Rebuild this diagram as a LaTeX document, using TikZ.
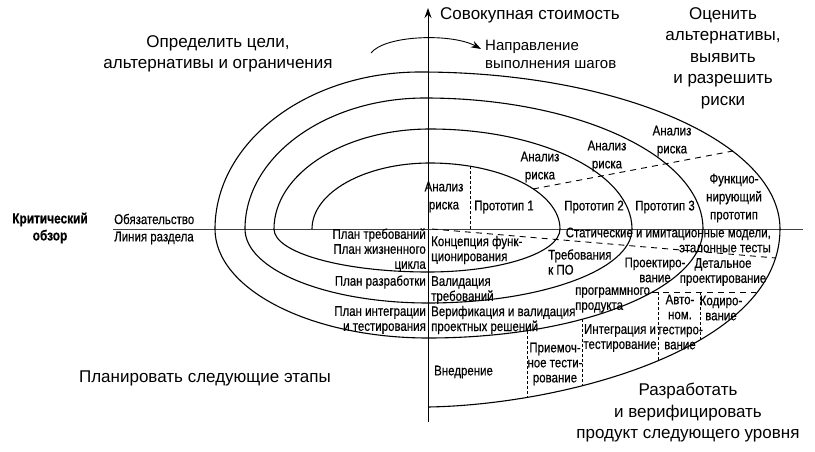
\documentclass[tikz,border=0pt]{standalone}
\usepackage{fontspec}
\setmainfont{Liberation Sans}
\newfontfamily\narrowfont[FakeStretch=0.82,FakeBold=0.4]{Liberation Sans}
\usetikzlibrary{arrows.meta}

\begin{document}
\begin{tikzpicture}[x=1pt,y=1pt,
  big/.style={font=\fontsize{17}{21.5}\selectfont,align=center,inner sep=0pt},
  sm/.style={font=\fontsize{15}{18}\selectfont,align=left,inner sep=0pt},
  lbl/.style={font=\narrowfont\fontsize{14}{15}\selectfont,align=center,inner sep=0pt},
  sp/.style={line width=1.1pt},
  dsh/.style={dash pattern=on 6pt off 5pt,line width=0.9pt},
  dv/.style={dash pattern=on 3pt off 2pt,line width=0.7pt},
  ar/.style={-{Stealth[length=10pt,width=7pt]},line width=1pt}]
\useasboundingbox (0,0) rectangle (815,451);

% axes
\coordinate (axbot) at (428,29);
\coordinate (axtop) at (428,443);
\coordinate (hl) at (113,222);
\coordinate (hr) at (803,222);
\draw[ar] (axbot) -- (axtop);
\draw[line width=0.8pt,black!75] (hl) -- (hr);

% spiral
\draw[sp] (312,222)
  arc[start angle=180,end angle=90,x radius=118,y radius=66]
  arc[start angle=90,end angle=0,x radius=130,y radius=66]
  arc[start angle=0,end angle=-90,x radius=132,y radius=43]
  arc[start angle=-90,end angle=-180,x radius=154,y radius=43]
  arc[start angle=180,end angle=90,x radius=156,y radius=100]
  arc[start angle=90,end angle=0,x radius=202,y radius=100]
  arc[start angle=0,end angle=-90,x radius=204,y radius=74]
  arc[start angle=-90,end angle=-180,x radius=183,y radius=74]
  arc[start angle=180,end angle=90,x radius=180,y radius=131]
  arc[start angle=90,end angle=0,x radius=278,y radius=131]
  arc[start angle=0,end angle=-90,x radius=275,y radius=109]
  arc[start angle=-90,end angle=-180,x radius=213,y radius=109]
  arc[start angle=180,end angle=90,x radius=205,y radius=157]
  arc[start angle=90,end angle=0,x radius=360,y radius=157]
  .. controls (780,101) and (560,46) .. (428,44);

% dashed splits
\draw[dsh] (533,262) -- (733,300);
\draw[dsh] (432,222) -- (776,193);
\draw[dsh] (652,159) -- (756,159);
\draw[dv] (470,222) -- (470,285);
\draw[dv] (658,159) -- (658,91);
\draw[dv] (700,159) -- (700,112);
\draw[dv] (582,132) -- (582,65);
\draw[dv] (527,120) -- (527,53);

% direction arrow
\coordinate (d0) at (371,398);
\coordinate (d1) at (481,402);
\draw[ar,line width=0.9pt] (d0) .. controls (385,416) and (452,418) .. (d1);

% quadrant captions
\node[big] (goals) at (218,397) {Определить цели,\\альтернативы и ограничения};
\node[big,anchor=west] (cost) at (440,436) {Совокупная стоимость};
\node[sm,anchor=west] (dir) at (485,397) {Направление\\выполнения шагов};
\node[big] (risk) at (723,393) {Оценить\\альтернативы,\\выявить\\и разрешить\\риски};
\node[big] (next) at (205,73) {Планировать следующие этапы};
\node[big] (build) at (688,38) {Разработать\\и верифицировать\\продукт следующего уровня};

% review line
\node[lbl,font=\narrowfont\bfseries\fontsize{14.5}{17}\selectfont] (review) at (50,223) {Критический\\обзор};
\node[lbl,anchor=west] (commit) at (114,232) {Обязательство};
\node[lbl,anchor=west] (part) at (114,213) {Линия раздела};

% risk analysis and prototypes
\node[lbl] (ra1) at (444,254) {Анализ\\[3pt]риска};
\node[lbl] (ra2) at (540,284) {Анализ\\[3pt]риска};
\node[lbl] (ra3) at (607,295) {Анализ\\[3pt]риска};
\node[lbl] (ra4) at (672,310) {Анализ\\[3pt]риска};
\node[lbl] (p1) at (504,244) {Прототип 1};
\node[lbl] (p2) at (594,244) {Прототип 2};
\node[lbl] (p3) at (665,244) {Прототип 3};
\node[lbl] (fp) at (734,253) {Функцио-\\[3pt]нирующий\\[3pt]прототип};

% plans
\node[lbl,anchor=east,align=right] (plreq) at (426,201) {План требований\\План жизненного\\цикла};
\node[lbl,anchor=east] (pldev) at (426,169) {План разработки};
\node[lbl,anchor=east,align=right] (plint) at (426,131) {План интеграции\\и тестирования};

% development steps
\node[lbl,anchor=west,align=left] (concept) at (431,201) {Концепция функ-\\ционирования};
\node[lbl,anchor=west,align=left] (valreq) at (431,161) {Валидация\\требований};
\node[lbl,anchor=west,align=left] (verif) at (431,131) {Верификация и валидация\\проектных решений};
\node[lbl,anchor=west] (deploy) at (434,79) {Внедрение};
\node[lbl] (accept) at (555,87) {Приемоч-\\ное тести-\\рование};
\node[lbl] (integ) at (620,113) {Интеграция и\\тестирование};
\node[lbl] (unit) at (680,129) {Авто-\\ном.\\тестиро-\\вание};
\node[lbl] (code) at (721,143) {Кодиро-\\вание};
\node[lbl] (detail) at (723,179) {Детальное\\проектирование};
\node[lbl] (design) at (655,181) {Проектиро-\\вание};
\node[lbl,anchor=west,align=left] (prod) at (575,151) {программного\\продукта};
\node[lbl,anchor=west,align=left] (swreq) at (548,189) {Требования\\к ПО};
\node[lbl,anchor=east,align=right] (models) at (771,211) {Статические и имитационные модели,\\эталонные тесты};
\end{tikzpicture}
\end{document}
